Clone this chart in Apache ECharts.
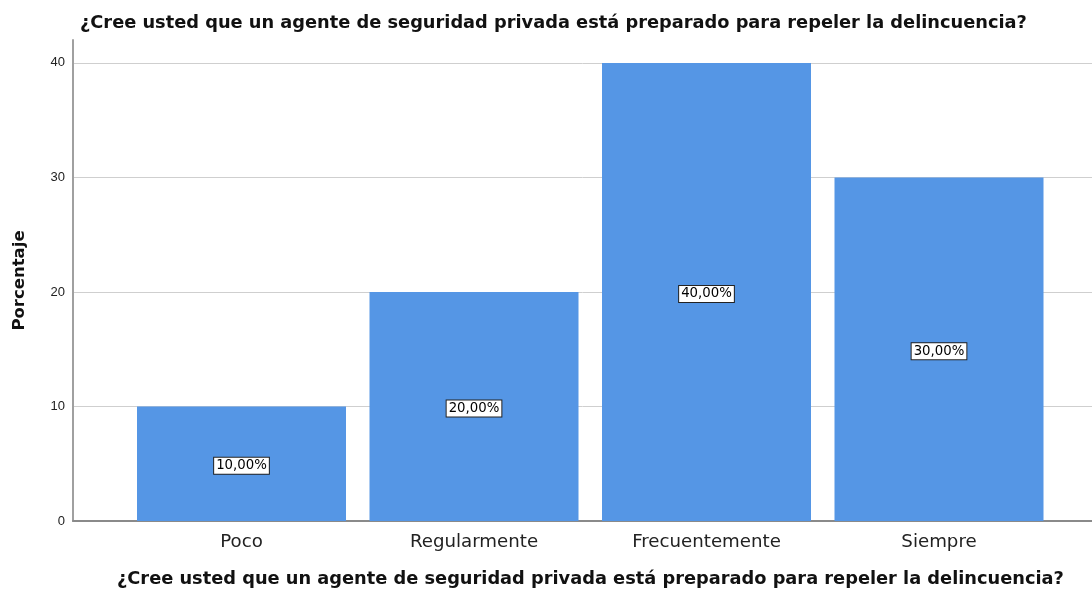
<!DOCTYPE html>
<html><head><meta charset="utf-8">
<script src="https://cdn.jsdelivr.net/npm/echarts@6/dist/echarts.min.js"></script>
<style>html,body{margin:0;padding:0;background:#fff}#c{width:1092px;height:590px}</style>
</head><body><div id="c"></div>
<script>
const categories = ['Poco', 'Regularmente', 'Frecuentemente', 'Siempre'];
const values = [10, 20, 40, 30];
const yTicks = [0, 10, 20, 30, 40];
const titleText = '¿Cree usted que un agente de seguridad privada está preparado para repeler la delincuencia?';
const yName = 'Porcentaje';

const chart = echarts.init(document.getElementById('c'));
const font = '"Liberation Sans", Arial, sans-serif';
const wfont = '"DejaVu Sans", sans-serif';
chart.setOption({
  animation: false,
  textStyle: { fontFamily: font },
  title: [
    { text: titleText, left: 75, top: 9, textStyle: { fontFamily: wfont, fontSize: 17.8, fontWeight: 'bold', color: '#111' } },
    { text: titleText, left: 112, top: 565, textStyle: { fontFamily: wfont, fontSize: 17.8, fontWeight: 'bold', color: '#111' } }
  ],
  grid: [
    { left: 73, right: 0, top: 40, bottom: 69 },
    { left: 125.25, width: 930, top: 40, bottom: 69 }
  ],
  xAxis: [
    { type: 'category', gridIndex: 0, data: [''], axisLine: { show: true, lineStyle: { color: '#8a8a8a', width: 2 } }, axisTick: { show: false }, axisLabel: { show: false } },
    { type: 'category', gridIndex: 1, data: categories, axisLine: { show: false }, axisTick: { show: false },
      axisLabel: { fontSize: 18.2, color: '#222', margin: 12, fontFamily: wfont } }
  ],
  yAxis: [
    { type: 'value', gridIndex: 0, min: 0, max: 42, interval: 10,
      name: yName, nameLocation: 'middle', nameGap: 45, nameTextStyle: { fontSize: 16.5, fontWeight: 'bold', color: '#111', fontFamily: wfont },
      axisLine: { show: true, lineStyle: { color: '#a0a0a0', width: 2 } }, axisTick: { show: false },
      axisLabel: { fontSize: 13, color: '#222', margin: 8, showMaxLabel: false,
        formatter: v => yTicks.includes(v) ? String(v) : '' },
      splitLine: { show: true, showMaxLine: false, lineStyle: { color: '#cfcfcf', width: 1 } } },
    { type: 'value', gridIndex: 1, min: 0, max: 42, interval: 10, show: false, splitLine: { show: false } }
  ],
  series: [{
    type: 'bar', xAxisIndex: 1, yAxisIndex: 1, data: values, barWidth: 209,
    itemStyle: { color: '#5596e5' },
    label: { show: true, position: 'inside', offset: [0, 2], color: '#000', fontSize: 13.3, fontFamily: wfont,
      backgroundColor: '#fff', borderColor: '#222', borderWidth: 1, padding: [2, 2, 1, 2],
      formatter: p => p.value.toFixed(2).replace('.', ',') + '%' }
  }]
});
</script></body></html>
